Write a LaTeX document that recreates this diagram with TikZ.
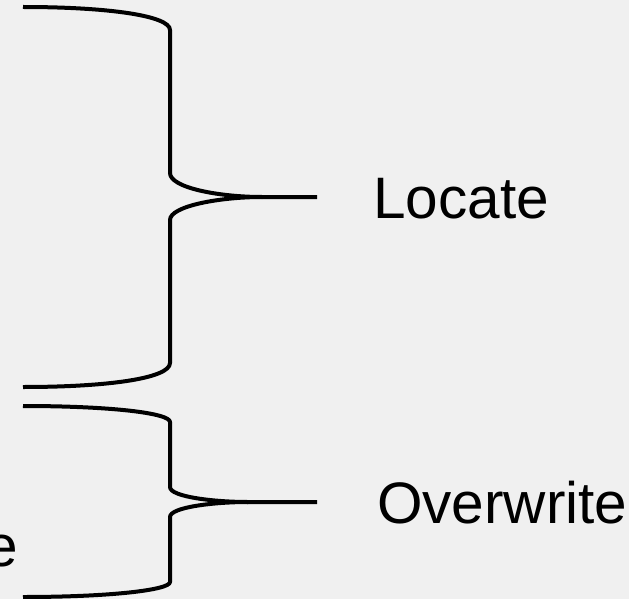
\documentclass[tikz,border=0pt]{standalone}
\usepackage{fontspec}
\setmainfont{Liberation Sans}
\begin{document}
\begin{tikzpicture}[x=1pt,y=-1pt,
  brace/.style={line width=4pt, line join=round},
  label/.style={font=\fontsize{58.5}{70}\selectfont, inner sep=0pt, anchor=base west}]
% canvas
\fill[fill={rgb,255:red,240;green,240;blue,240}] (0,0) rectangle (629,599);
\useasboundingbox (0,0) rectangle (629,599);
% upper brace
\coordinate (b1top) at (23,7);
\coordinate (b1tip) at (262,197);
\coordinate (b1end) at (317,197);
\coordinate (b1bot) at (23,387);
\draw[brace] (b1top) .. controls (110,7) and (170,16) .. (170,30)
  -- (170,173) .. controls (170,188) and (220,197) .. (b1tip) -- (b1end);
\draw[brace] (b1bot) .. controls (110,387) and (170,378) .. (170,363)
  -- (170,220) .. controls (170,206) and (220,197) .. (b1tip);
% lower brace
\coordinate (b2top) at (23,406);
\coordinate (b2tip) at (248,502);
\coordinate (b2end) at (317,502);
\coordinate (b2bot) at (23,597);
\draw[brace] (b2top) .. controls (110,406) and (170,413) .. (170,422)
  -- (170,487) .. controls (170,497) and (215,502) .. (b2tip) -- (b2end);
\draw[brace] (b2bot) .. controls (110,597) and (170,590) .. (170,582)
  -- (170,517) .. controls (170,507) and (215,502) .. (b2tip);
% labels
\node[label] (locate) at (373,218) {Locate};
\node[label] (overwrite) at (377,523) {Overwrite};
\node[label, anchor=base east] (tail) at (18,566) {e};
\end{tikzpicture}
\end{document}
